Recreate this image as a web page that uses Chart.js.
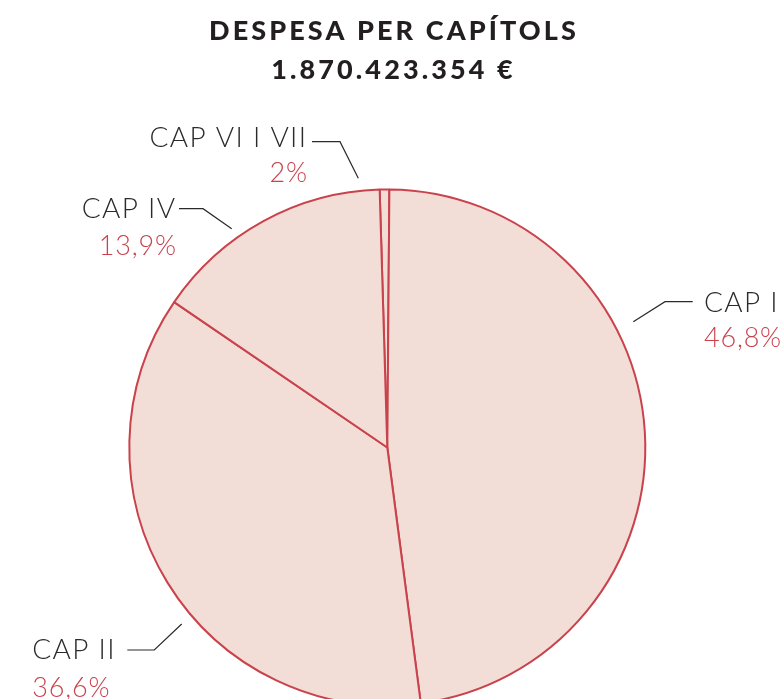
<!DOCTYPE html>
<html><head><meta charset="utf-8">
<script src="https://cdn.jsdelivr.net/npm/chart.js@4"></script>
<style>
html,body{margin:0;padding:0;overflow:hidden;background:#fff;width:784px;height:699px}
canvas{display:block}
</style></head><body>
<canvas id="c" width="784" height="895"></canvas>
<script>
// Data
const categories = ['CAP VI I VII', 'CAP I', 'CAP II', 'CAP IV'];
const shares = [0.6, 47.8, 36.6, 15.0];
const shareLabels = ['2%', '46,8%', '36,6%', '13,9%'];
const titleLines = ['DESPESA PER CAPÍTOLS', '1.870.423.354 €'];

// Label layout (styling, not data)
const labelLayout = [
  {align: 'right', x: 307.3, nameY: 147, pctY: 181.5, leader: [[312,141.7],[340,141.7],[358.3,178.3]]},
  {align: 'left', x: 704, nameY: 311.7, pctY: 346.7, leader: [[692.7,301.7],[665,301.7],[633.3,321.7]]},
  {align: 'left', x: 32.3, nameY: 659.3, pctY: 697, leader: [[127.3,650],[154.3,650],[181.7,624]]},
  {align: 'right', x: 176.3, nameY: 218.3, pctY: 255, leader: [[179,208.7],[203,208.7],[231.7,228.7]]}
];

const annotate = {
  id: 'annotate',
  afterDraw(chart) {
    const ctx = chart.ctx;
    ctx.save();
    // title
    ctx.fillStyle = '#231f20';
    ctx.textAlign = 'center';
    ctx.textBaseline = 'alphabetic';
    ctx.font = '900 27px Lato';
    ctx.letterSpacing = '3.1px';
    ctx.fillText(titleLines[0], 394, 39.5);
    ctx.fillText(titleLines[1], 393.5, 78.5);
    // labels
    const meta = chart.getDatasetMeta(0);
    meta.data.forEach((arc, i) => {
      const L = labelLayout[i];
      ctx.textAlign = L.align;
      ctx.letterSpacing = '1.3px';
      ctx.font = '300 28px Lato';
      ctx.fillStyle = '#2b2b2b';
      ctx.fillText(categories[i], L.x, L.nameY);
      ctx.letterSpacing = '0.8px';
      ctx.font = '300 27px Lato';
      ctx.fillStyle = '#c9424c';
      ctx.fillText(shareLabels[i], L.x - (L.align === 'right' ? -0.5 : 0), L.pctY);
      ctx.strokeStyle = '#2b2b2b';
      ctx.lineWidth = 1.2;
      ctx.beginPath();
      L.leader.forEach((p, k) => k ? ctx.lineTo(p[0], p[1]) : ctx.moveTo(p[0], p[1]));
      ctx.stroke();
    });
    ctx.restore();
  }
};

new Chart(document.getElementById('c'), {
  type: 'pie',
  data: {
    labels: categories,
    datasets: [{
      data: shares,
      backgroundColor: '#f3ddd7',
      borderColor: '#c9424c',
      borderWidth: 2,
      hoverOffset: 0,
      radius: 258
    }]
  },
  options: {
    responsive: false,
    animation: false,
    rotation: -1.7,
    layout: {padding: {left: 0, right: 9.4, top: 0, bottom: 0}},
    plugins: {legend: {display: false}, tooltip: {enabled: false}, title: {display: false}}
  },
  plugins: [annotate]
});
</script>
</body></html>
